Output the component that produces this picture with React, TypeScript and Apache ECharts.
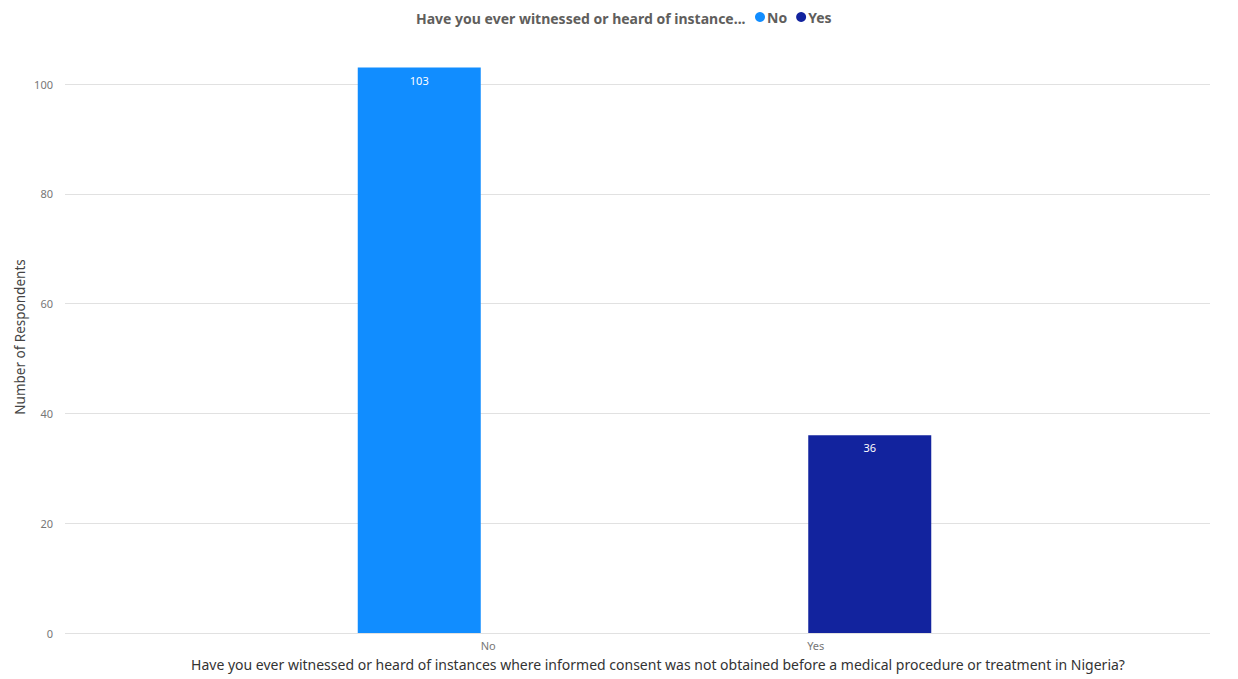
import React, { useEffect, useRef } from "react";
import * as echarts from "echarts";

const categories = ["No", "Yes"];
const noValues: (number | string)[] = [103, "-"];
const yesValues: (number | string)[] = ["-", 36];
const yTicks = [0, 20, 40, 60, 80, 100];

const legendTitle = "Have you ever witnessed or heard of instance...";
const xAxisTitle =
  "Have you ever witnessed or heard of instances where informed consent was not obtained before a medical procedure or treatment in Nigeria?";
const yAxisTitle = "Number of Respondents";

const FONT = "'Noto Sans', 'DejaVu Sans', sans-serif";

export default function App() {
  const ref = useRef<HTMLDivElement>(null);

  useEffect(() => {
    if (!ref.current) return;
    const chart = echarts.init(ref.current, undefined, { renderer: "svg" });
    const yMin = yTicks[0];
    const yMax = yTicks[yTicks.length - 1];
    const yStep = yTicks[1] - yTicks[0];

    chart.setOption({
      animation: false,
      backgroundColor: "#ffffff",
      title: {
        text: legendTitle,
        left: 411,
        top: 6,
        textStyle: {
          fontFamily: FONT,
          fontSize: 14,
          fontWeight: "bold",
          color: "#605E5C",
        },
      },
      legend: {
        left: 755,
        top: 10,
        icon: "circle",
        itemWidth: 10,
        itemHeight: 10,
        itemGap: 9,
        padding: 0,
        textStyle: {
          fontFamily: FONT,
          fontSize: 14,
          fontWeight: "bold",
          color: "#605E5C",
          padding: [0, 0, 0, -3],
        },
        data: ["No", "Yes"],
      },
      grid: [
        { left: 65, right: 28, top: 84, bottom: 46 },
        { left: 317, width: 655, top: 84, bottom: 46 },
      ],
      xAxis: [
        {
          gridIndex: 0,
          type: "value",
          show: false,
        },
        {
          gridIndex: 1,
          type: "category",
          data: categories,
          axisLine: { show: false },
          axisTick: { show: false },
          axisLabel: {
            color: "#777777",
            fontFamily: FONT,
            fontSize: 11,
            margin: 7,
            padding: [0, 0, 0, 15],
          },
        },
      ],
      yAxis: [
        {
          gridIndex: 0,
          type: "value",
          min: yMin,
          max: yMax,
          interval: yStep,
          axisLine: { show: false },
          axisTick: { show: false },
          axisLabel: {
            color: "#777777",
            fontFamily: FONT,
            fontSize: 11,
            margin: 12,
          },
          splitLine: { lineStyle: { color: "#E1E1E1", width: 1 } },
        },
        {
          gridIndex: 1,
          type: "value",
          min: yMin,
          max: yMax,
          interval: yStep,
          show: false,
        },
      ],
      graphic: [
        {
          type: "text",
          x: 20,
          y: 337,
          rotation: Math.PI / 2,
          style: {
            text: yAxisTitle,
            fill: "#444444",
            font: `13.5px ${FONT}`,
            align: "center",
            verticalAlign: "middle",
          },
        },
        {
          type: "text",
          x: 658,
          y: 664,
          style: {
            text: xAxisTitle,
            fill: "#333333",
            font: `14px ${FONT}`,
            align: "center",
            verticalAlign: "middle",
          },
        },
      ],
      series: [
        {
          name: "No",
          type: "bar",
          xAxisIndex: 1,
          yAxisIndex: 1,
          data: noValues,
          barWidth: 123,
          barGap: "0%",
          clip: false,
          itemStyle: { color: "#118DFF" },
          label: {
            show: true,
            position: "insideTop",
            distance: 7,
            color: "#ffffff",
            fontFamily: FONT,
            fontSize: 11,
          },
        },
        {
          name: "Yes",
          type: "bar",
          xAxisIndex: 1,
          yAxisIndex: 1,
          data: yesValues,
          barWidth: 123,
          barGap: "0%",
          clip: false,
          itemStyle: { color: "#12239E" },
          label: {
            show: true,
            position: "insideTop",
            distance: 7,
            color: "#ffffff",
            fontFamily: FONT,
            fontSize: 11,
          },
        },
      ],
    });

    return () => chart.dispose();
  }, []);

  return (
    <div
      ref={ref}
      style={{ position: "absolute", left: 0, top: 0, width: 1238, height: 679 }}
    />
  );
}
